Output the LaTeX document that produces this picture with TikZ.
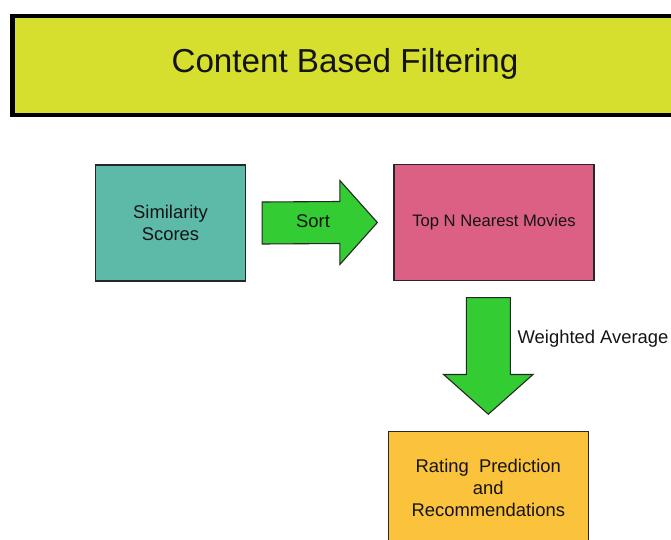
\documentclass[tikz,border=0pt]{standalone}
\usepackage{fontspec}
\setmainfont{Liberation Sans}
\usetikzlibrary{calc}
\definecolor{titlefill}{HTML}{D6DE2E}
\definecolor{tealfill}{HTML}{5DBAA8}
\definecolor{pinkfill}{HTML}{DC6084}
\definecolor{greenfill}{HTML}{33CC33}
\definecolor{orangefill}{HTML}{FBC23B}
\definecolor{txt}{HTML}{141414}
\tikzset{
  box/.style={draw=black!85, line width=1.3pt, rectangle, inner sep=0pt, align=center, text=txt},
  blockarrow/.style={draw=black!85, line width=1.1pt, fill=greenfill, line join=miter},
  lbl/.style={inner sep=0pt, text=txt, font=\fontsize{18.4}{22}\selectfont}
}
\begin{document}
\begin{tikzpicture}[x=1pt,y=-1pt]
\useasboundingbox (0,0) rectangle (671,540);
\clip (0,0) rectangle (671,540);
% title
\draw[line width=4.5pt, fill=titlefill] (12.25,16.25) rectangle (680,115);
\node[lbl, font=\fontsize{33.2}{38}\selectfont, anchor=base] (title) at (345,72.5) {Content Based Filtering};
% boxes
\node[box, fill=tealfill, minimum width=150pt, minimum height=116pt, font=\fontsize{18.4}{22}\selectfont] (sim) at (170.5,223) {Similarity\\Scores};
\node[box, fill=pinkfill, minimum width=200pt, minimum height=116pt, font=\fontsize{16.6}{20}\selectfont] (top) at (494,222.5) {Top N Nearest Movies};
\node[box, fill=orangefill, minimum width=200pt, minimum height=130pt, anchor=north] (rate) at (488.3,430.7) {};
\node[lbl, align=center, anchor=base] (ratetxt) at (488.3,516) {Rating~ Prediction\\and\\Recommendations};
% sort arrow
\coordinate (s0) at ($(sim.east)+(16,0)$);
\coordinate (s1) at ($(top.west)+(-16,0)$);
\draw[blockarrow] ($(s0)+(0,-21)$) -- ($(s1)+(-37.5,-21)$) -- ($(s1)+(-37.5,-42)$) -- (s1)
  -- ($(s1)+(-37.5,42)$) -- ($(s1)+(-37.5,21)$) -- ($(s0)+(0,21)$) -- cycle;
\node[lbl] (sort) at (313,221) {Sort};
% down arrow
\coordinate (d1) at ($(rate.north)+(0,-16.5)$);
\coordinate (d0) at ($(d1 |- top.south)+(0,16.5)$);
\draw[blockarrow] ($(d0)+(-22,0)$) -- ($(d0)+(22,0)$) -- ($(d1)+(22,-39.7)$) -- ($(d1)+(44.7,-39.7)$)
  -- (d1) -- ($(d1)+(-44.7,-39.7)$) -- ($(d1)+(-22,-39.7)$) -- cycle;
\node[lbl, anchor=base west] (wavg) at (517.5,343) {Weighted Average};
\end{tikzpicture}
\end{document}
